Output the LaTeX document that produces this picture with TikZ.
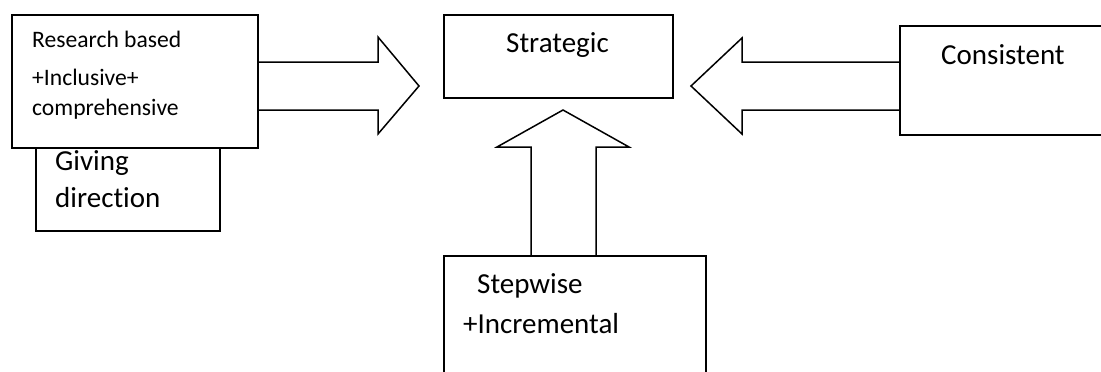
\documentclass[tikz,border=0pt]{standalone}
\usepackage{fontspec}
\setmainfont{Carlito}[Ligatures={NoCommon}]
\usetikzlibrary{calc}
\begin{document}
\begin{tikzpicture}[x=1pt,y=-1pt,
  outline/.style={line width=1.5pt,draw=black,line join=miter},
  box/.style={outline,fill=white,rectangle,inner sep=0pt,anchor=north west},
  label/.style={anchor=base west,inner sep=0pt,font=\fontsize{29}{35}\selectfont},
  smalllabel/.style={anchor=base west,inner sep=0pt,font=\fontsize{23.6}{28}\selectfont}]
\useasboundingbox (0,0) rectangle (1101,372);
\clip (0,0) rectangle (1101,372);

% boxes (the lower-left one sits behind the research box)
\node[box,minimum width=184pt,minimum height=100pt] (giving) at (35,130) {};
\node[box,minimum width=246pt,minimum height=133pt] (research) at (11,14) {};
\node[box,minimum width=229pt,minimum height=83pt] (strategic) at (443,14) {};
\node[box,minimum width=220pt,minimum height=109pt] (consistent) at (899,25) {};
\node[box,minimum width=262pt,minimum height=130pt] (stepwise) at (443,255) {};

% texts
\node[smalllabel] (t1) at (32,47) {Research based};
\node[smalllabel] (t2) at (32,85) {+Inclusive+};
\node[smalllabel] (t3) at (32,115) {comprehensive};
\node[label] (t4) at (55,170) {Giving};
\node[label] (t5) at (55,207) {direction};
\node[label] (t6) at (506,52) {Strategic};
\node[label] (t7) at (941,64) {Consistent};
\node[label] (t8) at (477,293) {Stepwise};
\node[label] (t9) at (463,333) {+Incremental};

% arrow tips
\coordinate (tipR) at (419,86);
\coordinate (tipL) at (691,86);
\coordinate (tipU) at (563,110);

% block arrow: research -> strategic
\draw[outline] ($(research.east |- tipR)+(0,-24)$) -- ($(tipR)+(-41,-24)$)
  -- ($(tipR)+(-41,-49)$) -- (tipR) -- ($(tipR)+(-41,48)$)
  -- ($(tipR)+(-41,24)$) -- ($(research.east |- tipR)+(0,24)$);

% block arrow: consistent -> strategic
\draw[outline] ($(consistent.west |- tipL)+(0,-24)$) -- ($(tipL)+(51,-24)$)
  -- ($(tipL)+(51,-48)$) -- (tipL) -- ($(tipL)+(51,48)$)
  -- ($(tipL)+(51,24)$) -- ($(consistent.west |- tipL)+(0,24)$);

% block arrow: stepwise -> strategic
\draw[outline] ($(stepwise.north -| tipU)+(-32,0)$) -- ($(tipU)+(-32,37)$)
  -- ($(tipU)+(-66,37)$) -- (tipU) -- ($(tipU)+(66,37)$)
  -- ($(tipU)+(33,37)$) -- ($(stepwise.north -| tipU)+(33,0)$);
\end{tikzpicture}
\end{document}
